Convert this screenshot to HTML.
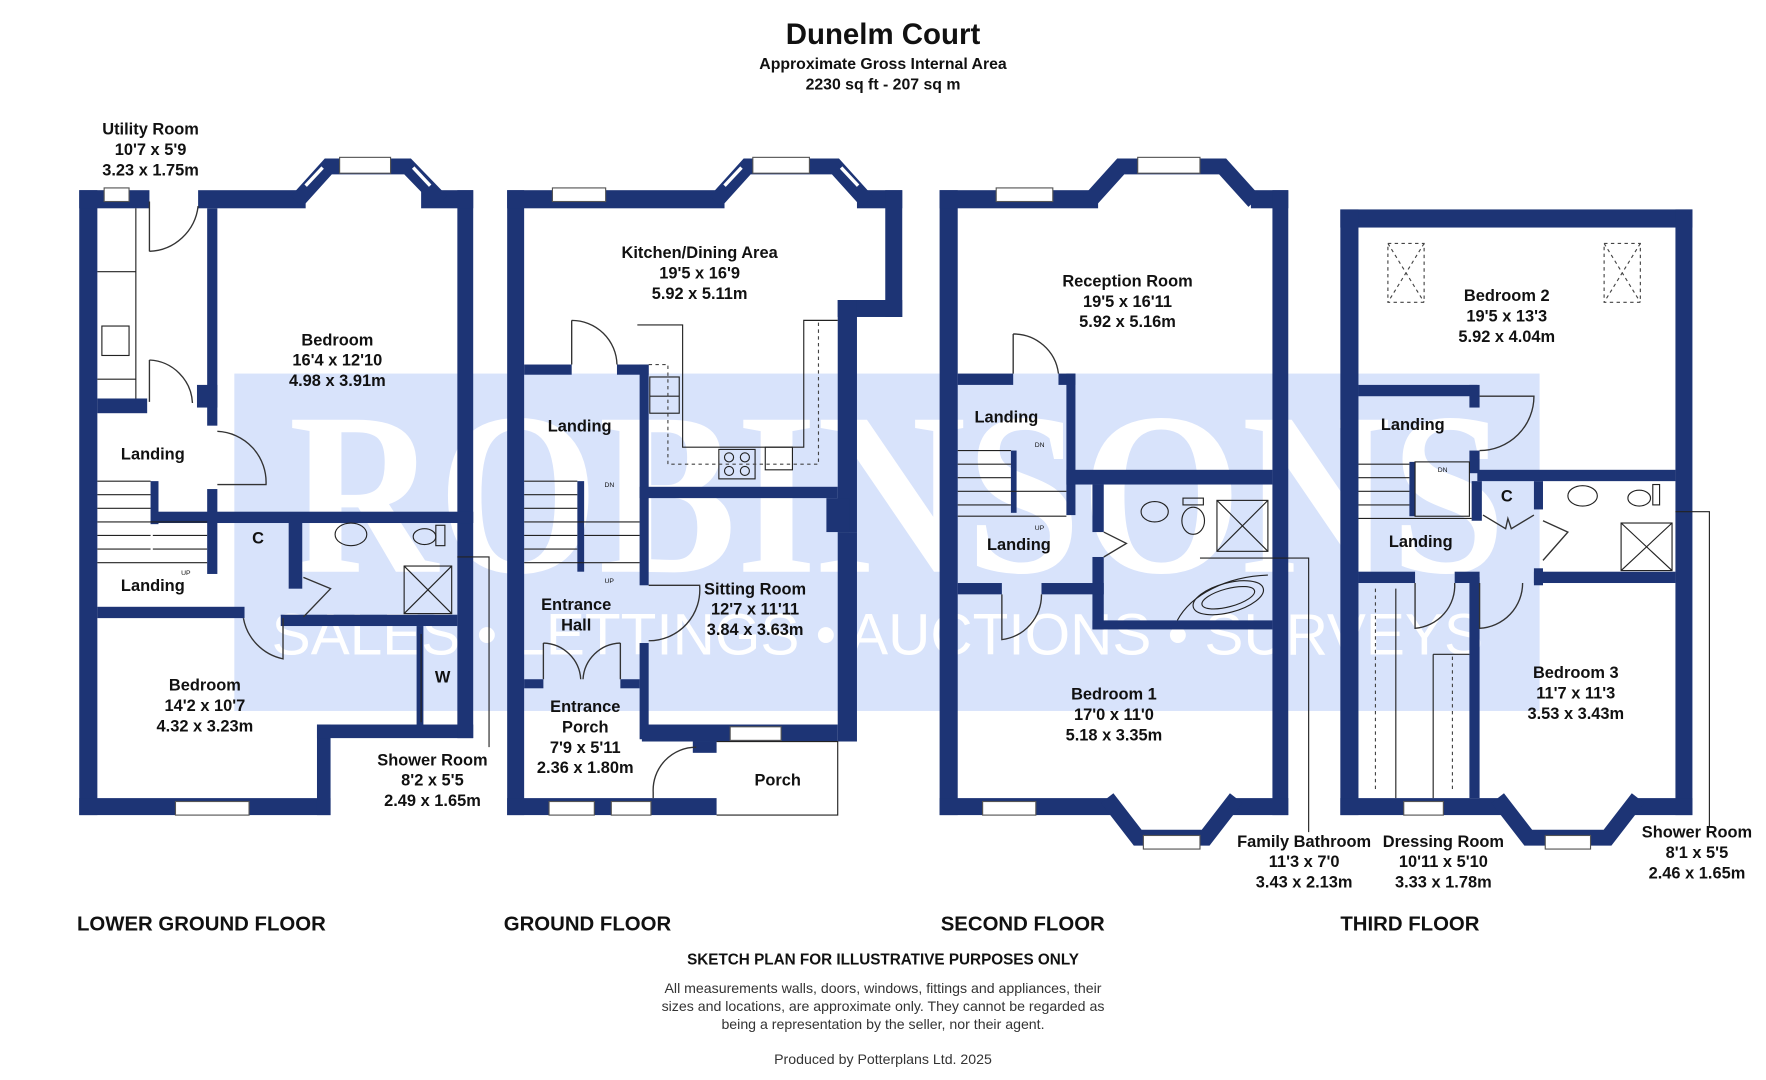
<!DOCTYPE html>
<html><head><meta charset="utf-8"><style>
html,body{margin:0;padding:0;background:#fff;}
svg{display:block;}
text{font-family:"Liberation Sans",Arial,sans-serif;fill:#111;}
.r{font-size:14.5px;font-weight:bold;text-anchor:middle;}
.f{font-size:18px;font-weight:bold;}
.w{fill:#1d3475;}
.win{fill:#fff;stroke:#555;stroke-width:1;}
.thin{fill:none;stroke:#222;stroke-width:1;}
.dash{fill:none;stroke:#444;stroke-width:1;stroke-dasharray:3,3;}
.door{fill:none;stroke:#333;stroke-width:1.2;}
</style></head><body>
<svg width="1766" height="1080" viewBox="0 0 1560 954" preserveAspectRatio="none" xmlns="http://www.w3.org/2000/svg">
<rect width="1560" height="954" fill="#fff"/>
<!-- watermark -->
<rect x="207" y="330" width="1153" height="298" fill="#d8e3fb"/>
<text x="255" y="505" font-family="Liberation Serif" font-weight="bold" font-size="205" textLength="1075" lengthAdjust="spacingAndGlyphs" style="fill:#fff;font-family:'Liberation Serif',serif">ROBINSONS</text>
<text x="240" y="578" font-size="52" textLength="1070" lengthAdjust="spacingAndGlyphs" style="fill:#fff">SALES • LETTINGS • AUCTIONS • SURVEYS</text>

<!-- ===== LOWER GROUND ===== -->
<g class="w">
<rect x="70" y="168" width="16" height="552"/>
<rect x="70" y="705" width="222" height="15"/>
<rect x="280" y="640" width="12" height="80"/>
<rect x="280" y="640" width="138" height="12"/>
<rect x="404" y="168" width="14" height="484"/>
<rect x="70" y="168" width="62" height="16"/>
<rect x="175" y="168" width="95" height="16"/>
<rect x="372" y="168" width="46" height="16"/>
<rect x="183" y="184" width="9" height="192"/>
<rect x="183" y="432" width="9" height="75"/>
<rect x="174" y="340" width="18" height="20"/>
<rect x="86" y="352" width="44" height="13"/>
<rect x="133" y="425" width="7" height="38"/>
<rect x="135" y="452" width="283" height="10"/>
<rect x="255" y="455" width="12" height="65"/>
<rect x="86" y="536" width="130" height="10"/>
<rect x="248" y="543" width="156" height="10"/>
<rect x="368" y="553" width="6" height="90"/>
</g>
<polyline points="262,178 290,147 360,147 390,178" fill="none" stroke="#1d3475" stroke-width="14"/>
<rect class="win" x="300" y="139" width="45" height="14"/>
<line x1="270" y1="164" x2="285" y2="148" stroke="#fff" stroke-width="3"/>
<line x1="365" y1="148" x2="380" y2="164" stroke="#fff" stroke-width="3"/>
<rect class="win" x="92" y="166" width="22" height="12"/>
<rect class="win" x="155" y="708" width="65" height="12"/>
<path class="door" d="M132,178 L132,222 M132,222 A45,45 0 0 0 175,182"/>
<path class="door" d="M132,318 L132,355 M132,318 A40,40 0 0 1 170,356"/>
<path class="door" d="M192,381 A45,45 0 0 1 235,428 L192,428"/>
<path class="door" d="M215,546 A45,45 0 0 0 250,582 L250,546"/>
<path class="door" d="M268,510 L292,520 L268,545"/>
<g class="thin">
<line x1="120" y1="184" x2="120" y2="352"/><line x1="86" y1="240" x2="120" y2="240"/><line x1="86" y1="335" x2="120" y2="335"/>
<rect x="90" y="288" width="24" height="26"/>
<line x1="86" y1="425" x2="133" y2="425"/><line x1="86" y1="437" x2="133" y2="437"/><line x1="86" y1="449" x2="133" y2="449"/><line x1="86" y1="461" x2="183" y2="461"/><line x1="86" y1="473" x2="133" y2="473"/><line x1="86" y1="485" x2="133" y2="485"/><line x1="86" y1="497" x2="183" y2="497"/>
<line x1="135" y1="473" x2="183" y2="473"/><line x1="135" y1="485" x2="183" y2="485"/>
<ellipse cx="310" cy="472" rx="14" ry="10"/><ellipse cx="375" cy="474" rx="10" ry="7"/><rect x="385" y="464" width="8" height="18"/>
<rect x="357" y="500" width="42" height="42"/><line x1="357" y1="500" x2="399" y2="542"/><line x1="399" y1="500" x2="357" y2="542"/>
<line x1="372" y1="560" x2="372" y2="638"/>
<polyline points="404,492 432,492 432,660"/>
</g>
<text class="r" x="133" y="119">Utility Room</text><text class="r" x="133" y="137">10'7 x 5'9</text><text class="r" x="133" y="155">3.23 x 1.75m</text>
<text class="r" x="298" y="305">Bedroom</text><text class="r" x="298" y="323">16'4 x 12'10</text><text class="r" x="298" y="341">4.98 x 3.91m</text>
<text class="r" x="135" y="406">Landing</text>
<text class="r" x="228" y="480">C</text>
<text class="r" x="135" y="522">Landing</text>
<text x="160" y="508" font-size="6">UP</text>
<text class="r" x="391" y="603">W</text>
<text class="r" x="181" y="610">Bedroom</text><text class="r" x="181" y="628">14'2 x 10'7</text><text class="r" x="181" y="646">4.32 x 3.23m</text>
<text class="r" x="382" y="676">Shower Room</text><text class="r" x="382" y="694">8'2 x 5'5</text><text class="r" x="382" y="712">2.49 x 1.65m</text>

<!-- ===== GROUND ===== -->
<g class="w">
<rect x="448" y="168" width="15" height="552"/>
<rect x="448" y="168" width="192" height="16"/>
<rect x="757" y="168" width="40" height="16"/>
<rect x="782" y="168" width="15" height="112"/>
<rect x="740" y="265" width="57" height="15"/>
<rect x="740" y="265" width="17" height="205"/>
<rect x="730" y="440" width="20" height="30"/>
<rect x="740" y="470" width="17" height="185"/>
<rect x="463" y="322" width="42" height="9"/>
<rect x="545" y="322" width="28" height="9"/>
<rect x="565" y="322" width="8" height="195"/>
<rect x="565" y="568" width="8" height="85"/>
<rect x="565" y="430" width="175" height="10"/>
<rect x="510" y="425" width="6" height="80"/>
<rect x="463" y="600" width="17" height="8"/>
<rect x="548" y="600" width="17" height="8"/>
<rect x="567" y="640" width="173" height="15"/>
<rect x="448" y="705" width="185" height="15"/>
<rect x="612" y="655" width="21" height="10"/>
</g>
<polyline points="632,178 660,147 738,147 766,178" fill="none" stroke="#1d3475" stroke-width="14"/>
<rect class="win" x="665" y="139" width="50" height="14"/>
<line x1="640" y1="164" x2="655" y2="148" stroke="#fff" stroke-width="3"/>
<line x1="743" y1="148" x2="758" y2="164" stroke="#fff" stroke-width="3"/>
<rect class="win" x="488" y="166" width="47" height="12"/>
<rect class="win" x="485" y="708" width="40" height="12"/>
<rect class="win" x="540" y="708" width="35" height="12"/>
<rect class="win" x="645" y="642" width="45" height="12"/>
<path class="door" d="M505,283 L505,322 M505,283 A40,40 0 0 1 545,322"/>
<path class="door" d="M573,517 L618,517 A45,45 0 0 1 573,566"/>
<path class="door" d="M480,568 L480,600 M480,568 A34,34 0 0 1 513,600 M548,568 L548,600 M548,568 A34,34 0 0 0 515,600"/>
<path class="door" d="M577,705 L577,700 A38,38 0 0 1 615,660"/>
<g class="thin">
<polyline points="633,655 740,655 740,720 633,720"/>
<polyline points="563,287 603,287 603,395 710,395 710,283 740,283"/>
<rect x="574" y="333" width="26" height="32"/><line x1="574" y1="350" x2="600" y2="350"/>
<rect x="635" y="397" width="32" height="26"/><circle cx="644" cy="404" r="4"/><circle cx="658" cy="404" r="4"/><circle cx="644" cy="416" r="4"/><circle cx="658" cy="416" r="4"/>
<rect x="676" y="395" width="24" height="20"/>
<line x1="463" y1="425" x2="510" y2="425"/><line x1="463" y1="437" x2="510" y2="437"/><line x1="463" y1="449" x2="510" y2="449"/><line x1="463" y1="461" x2="565" y2="461"/><line x1="463" y1="473" x2="510" y2="473"/><line x1="463" y1="485" x2="510" y2="485"/><line x1="463" y1="497" x2="565" y2="497"/>
<line x1="516" y1="473" x2="565" y2="473"/>
</g>
<polyline class="dash" points="573,322 590,322 590,410 723,410 723,283"/>
<text x="534" y="430" font-size="6">DN</text><text x="534" y="515" font-size="6">UP</text>
<text class="r" x="618" y="228">Kitchen/Dining Area</text><text class="r" x="618" y="246">19'5 x 16'9</text><text class="r" x="618" y="264">5.92 x 5.11m</text>
<text class="r" x="512" y="381">Landing</text>
<text class="r" x="509" y="539">Entrance</text><text class="r" x="509" y="557">Hall</text>
<text class="r" x="667" y="525">Sitting Room</text><text class="r" x="667" y="543">12'7 x 11'11</text><text class="r" x="667" y="561">3.84 x 3.63m</text>
<text class="r" x="517" y="629">Entrance</text><text class="r" x="517" y="647">Porch</text><text class="r" x="517" y="665">7'9 x 5'11</text><text class="r" x="517" y="683">2.36 x 1.80m</text>
<text class="r" x="687" y="694">Porch</text>

<!-- ===== SECOND ===== -->
<g class="w">
<rect x="830" y="168" width="16" height="552"/>
<rect x="830" y="168" width="140" height="16"/>
<rect x="1105" y="168" width="33" height="16"/>
<rect x="1124" y="168" width="14" height="552"/>
<rect x="830" y="705" width="155" height="15"/>
<rect x="1085" y="705" width="53" height="15"/>
<rect x="846" y="330" width="49" height="10"/>
<rect x="935" y="330" width="15" height="10"/>
<rect x="942" y="330" width="8" height="125"/>
<rect x="942" y="415" width="182" height="13"/>
<rect x="965" y="428" width="10" height="42"/>
<rect x="965" y="492" width="10" height="64"/>
<rect x="965" y="548" width="159" height="8"/>
<rect x="846" y="515" width="39" height="10"/>
<rect x="920" y="515" width="55" height="10"/>
<rect x="893" y="398" width="5" height="55"/>
</g>
<polyline points="962,178 990,147 1080,147 1108,178" fill="none" stroke="#1d3475" stroke-width="14"/>
<rect class="win" x="1005" y="139" width="55" height="14"/>
<polyline points="978,705 1005,740 1065,740 1092,705" fill="none" stroke="#1d3475" stroke-width="14"/>
<rect class="win" x="1010" y="738" width="50" height="12"/>
<rect class="win" x="880" y="166" width="50" height="12"/>
<rect class="win" x="868" y="708" width="47" height="12"/>
<path class="door" d="M895,295 L895,330 M895,295 A40,40 0 0 1 935,330"/>
<path class="door" d="M975,470 L995,480 L975,492"/>
<path class="door" d="M885,525 L885,565 A40,40 0 0 0 920,525"/>
<g class="thin">
<line x1="846" y1="398" x2="893" y2="398"/><line x1="846" y1="410" x2="893" y2="410"/><line x1="846" y1="422" x2="893" y2="422"/><line x1="846" y1="434" x2="942" y2="434"/><line x1="846" y1="446" x2="893" y2="446"/><line x1="846" y1="456" x2="942" y2="456"/>
<ellipse cx="1020" cy="452" rx="12" ry="9"/><ellipse cx="1054" cy="460" rx="10" ry="12"/><rect x="1045" y="440" width="18" height="6"/>
<rect x="1075" y="442" width="45" height="45"/><line x1="1075" y1="442" x2="1120" y2="487"/><line x1="1120" y1="442" x2="1075" y2="487"/>
<path d="M1040,548 A90,60 0 0 1 1120,508"/>
<ellipse cx="1085" cy="528" rx="32" ry="13" transform="rotate(-15 1085 528)"/><ellipse cx="1085" cy="528" rx="24" ry="8" transform="rotate(-15 1085 528)"/>
<polyline points="1060,493 1156,493 1156,735"/>
</g>
<text x="914" y="395" font-size="6">DN</text><text x="914" y="468" font-size="6">UP</text>
<text class="r" x="996" y="253">Reception Room</text><text class="r" x="996" y="271">19'5 x 16'11</text><text class="r" x="996" y="289">5.92 x 5.16m</text>
<text class="r" x="889" y="373">Landing</text>
<text class="r" x="900" y="486">Landing</text>
<text class="r" x="984" y="618">Bedroom 1</text><text class="r" x="984" y="636">17'0 x 11'0</text><text class="r" x="984" y="654">5.18 x 3.35m</text>
<text class="r" x="1152" y="748">Family Bathroom</text><text class="r" x="1152" y="766">11'3 x 7'0</text><text class="r" x="1152" y="784">3.43 x 2.13m</text>

<!-- ===== THIRD ===== -->
<g class="w">
<rect x="1184" y="185" width="311" height="16"/>
<rect x="1184" y="185" width="16" height="535"/>
<rect x="1480" y="185" width="15" height="535"/>
<rect x="1184" y="705" width="146" height="15"/>
<rect x="1440" y="705" width="55" height="15"/>
<rect x="1200" y="340" width="105" height="10"/>
<rect x="1298" y="340" width="9" height="20"/>
<rect x="1298" y="398" width="9" height="20"/>
<rect x="1305" y="415" width="175" height="10"/>
<rect x="1245" y="408" width="5" height="48"/>
<rect x="1300" y="425" width="9" height="35"/>
<rect x="1355" y="425" width="8" height="25"/>
<rect x="1355" y="502" width="8" height="15"/>
<rect x="1355" y="505" width="125" height="10"/>
<rect x="1200" y="505" width="50" height="10"/>
<rect x="1285" y="505" width="22" height="10"/>
<rect x="1298" y="510" width="9" height="195"/>
</g>
<polyline points="1323,705 1350,740 1420,740 1447,705" fill="none" stroke="#1d3475" stroke-width="14"/>
<rect class="win" x="1365" y="738" width="40" height="12"/>
<rect class="win" x="1240" y="708" width="35" height="12"/>
<path class="door" d="M1307,350 L1355,350 A48,48 0 0 1 1307,398"/>
<path class="door" d="M1363,460 L1385,470 L1363,495"/>
<path class="door" d="M1250,515 L1250,555 A38,38 0 0 0 1285,515"/>
<path class="door" d="M1307,515 L1307,555 A40,40 0 0 0 1345,515"/>
<path class="door" d="M1310,455 L1330,467 L1332,458 L1335,467 L1355,455"/>
<g class="thin">
<line x1="1200" y1="410" x2="1245" y2="410"/><line x1="1200" y1="422" x2="1245" y2="422"/><line x1="1200" y1="434" x2="1245" y2="434"/><line x1="1200" y1="446" x2="1245" y2="446"/><line x1="1200" y1="458" x2="1300" y2="458"/>
<rect x="1250" y="408" width="48" height="48"/>
<ellipse cx="1398" cy="438" rx="13" ry="9"/><ellipse cx="1448" cy="440" rx="10" ry="7"/><rect x="1460" y="428" width="6" height="18"/>
<rect x="1432" y="462" width="45" height="42"/><line x1="1432" y1="462" x2="1477" y2="504"/><line x1="1477" y1="462" x2="1432" y2="504"/>
<line x1="1233" y1="520" x2="1233" y2="705"/><line x1="1266" y1="578" x2="1298" y2="578"/><line x1="1266" y1="578" x2="1266" y2="705"/>
<polyline points="1480,452 1510,452 1510,730"/>
</g>
<rect class="dash" x="1226" y="215" width="32" height="52"/><line class="dash" x1="1226" y1="215" x2="1258" y2="267"/><line class="dash" x1="1258" y1="215" x2="1226" y2="267"/>
<rect class="dash" x="1417" y="215" width="32" height="52"/><line class="dash" x1="1417" y1="215" x2="1449" y2="267"/><line class="dash" x1="1449" y1="215" x2="1417" y2="267"/>
<line class="dash" x1="1215" y1="520" x2="1215" y2="700"/><line class="dash" x1="1283" y1="580" x2="1283" y2="700"/>
<text x="1270" y="417" font-size="6">DN</text>
<text class="r" x="1331" y="266">Bedroom 2</text><text class="r" x="1331" y="284">19'5 x 13'3</text><text class="r" x="1331" y="302">5.92 x 4.04m</text>
<text class="r" x="1248" y="380">Landing</text>
<text class="r" x="1331" y="443">C</text>
<text class="r" x="1255" y="483">Landing</text>
<text class="r" x="1392" y="599">Bedroom 3</text><text class="r" x="1392" y="617">11'7 x 11'3</text><text class="r" x="1392" y="635">3.53 x 3.43m</text>
<text class="r" x="1275" y="748">Dressing Room</text><text class="r" x="1275" y="766">10'11 x 5'10</text><text class="r" x="1275" y="784">3.33 x 1.78m</text>
<text class="r" x="1499" y="740">Shower Room</text><text class="r" x="1499" y="758">8'1 x 5'5</text><text class="r" x="1499" y="776">2.46 x 1.65m</text>

<!-- titles -->
<text x="780" y="39" font-size="26" font-weight="bold" text-anchor="middle">Dunelm Court</text>
<text x="780" y="61" font-size="14" font-weight="bold" text-anchor="middle">Approximate Gross Internal Area</text>
<text x="780" y="79" font-size="14" font-weight="bold" text-anchor="middle">2230 sq ft - 207 sq m</text>
<text class="f" x="68" y="822">LOWER GROUND FLOOR</text>
<text class="f" x="445" y="822">GROUND FLOOR</text>
<text class="f" x="831" y="822">SECOND FLOOR</text>
<text class="f" x="1184" y="822">THIRD FLOOR</text>
<text x="780" y="852" font-size="13.5" font-weight="bold" text-anchor="middle">SKETCH PLAN FOR ILLUSTRATIVE PURPOSES ONLY</text>
<text x="780" y="877" font-size="12.5" text-anchor="middle" style="fill:#333">All measurements walls, doors, windows, fittings and appliances, their</text>
<text x="780" y="893" font-size="12.5" text-anchor="middle" style="fill:#333">sizes and locations, are approximate only. They cannot be regarded as</text>
<text x="780" y="909" font-size="12.5" text-anchor="middle" style="fill:#333">being a representation by the seller, nor their agent.</text>
<text x="780" y="940" font-size="12.5" text-anchor="middle" style="fill:#333">Produced by Potterplans Ltd. 2025</text>
</svg>
</body></html>
